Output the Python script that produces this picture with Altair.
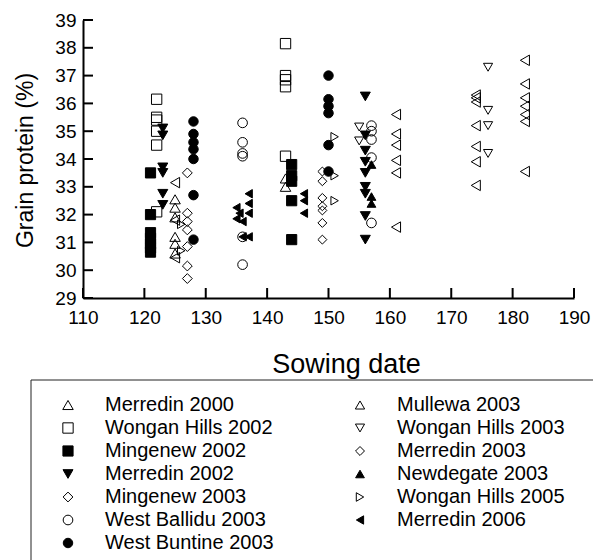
import altair as alt
import pandas as pd

FONT = "Liberation Sans"

# ---- data (sowing day, grain protein %) ----
merredin_2000_date = [125, 125, 125, 125, 125, 125, 143, 143]
merredin_2000_prot = [32.55, 32.25, 31.9, 31.2, 30.95, 30.6, 33.3, 33.0]

wongan_2002_date = [122, 122, 122, 122, 122, 122, 143, 143, 143, 143, 143]
wongan_2002_prot = [36.15, 35.5, 35.4, 35.0, 34.5, 32.1, 38.15, 37.0, 36.85, 36.6, 34.1]

mingenew_2002_date = [121, 121, 121, 121, 121, 121, 121, 144, 144, 144, 144, 144]
mingenew_2002_prot = [33.5, 32.0, 31.35, 31.15, 30.95, 30.8, 30.65, 33.8, 33.4, 33.2, 32.5, 31.1]

merredin_2002_date = [123, 123, 123, 123, 123, 123, 156, 156, 156, 156, 156, 156, 156, 156, 156]
merredin_2002_prot = [35.1, 34.85, 33.7, 33.5, 32.75, 32.35, 36.25, 34.85, 34.3, 33.9, 33.5, 33.0, 32.75, 31.95, 31.1]

mingenew_2003_date = [127, 127, 127, 127, 127, 127, 127]
mingenew_2003_prot = [33.5, 32.05, 31.75, 31.45, 30.85, 30.15, 29.7]

ballidu_2003_date = [136, 136, 136, 136, 136, 136, 157, 157, 157, 157, 157]
ballidu_2003_prot = [35.3, 34.6, 34.2, 34.1, 31.2, 30.2, 35.2, 35.0, 34.7, 34.05, 31.7]

buntine_2003_date = [128, 128, 128, 128, 128, 128, 128, 150, 150, 150, 150, 150, 150]
buntine_2003_prot = [35.35, 34.9, 34.6, 34.35, 34.0, 32.7, 31.1, 37.0, 36.15, 35.9, 35.65, 34.5, 33.55]

mullewa_2003_date = [125, 125, 125, 161, 161, 161, 161, 161, 161,
                     174, 174, 174, 174, 174, 174, 174,
                     182, 182, 182, 182, 182, 182, 182]
mullewa_2003_prot = [33.15, 31.8, 30.45, 35.6, 34.9, 34.5, 33.95, 33.5, 31.55,
                     36.3, 36.2, 36.05, 35.2, 34.45, 33.9, 33.05,
                     37.55, 36.7, 36.2, 35.9, 35.6, 35.35, 33.55]

wongan_2003_date = [155, 155, 176, 176, 176, 176]
wongan_2003_prot = [35.15, 34.65, 37.3, 35.75, 35.2, 34.2]

merredin_2003_date = [149, 149, 149, 149, 149, 149, 149]
merredin_2003_prot = [33.55, 33.2, 32.6, 32.3, 32.15, 31.7, 31.1]

newdegate_2003_date = [157, 157, 157]
newdegate_2003_prot = [33.8, 32.65, 32.4]

wongan_2005_date = [126, 126, 151, 151, 151]
wongan_2005_prot = [31.65, 30.7, 34.8, 33.4, 32.5]

merredin_2006_date = [135, 135, 135.5, 136, 136, 137, 137, 137, 137, 146, 146, 146]
merredin_2006_prot = [32.25, 31.85, 32.05, 31.75, 31.2, 32.75, 32.4, 32.05, 31.2, 32.75, 32.5, 32.05]

x_ticks = [110, 120, 130, 140, 150, 160, 170, 180, 190]
y_ticks = [29, 30, 31, 32, 33, 34, 35, 36, 37, 38, 39]

# legend order (column-major, 2 columns)
legend_order = ["Merredin 2000", "Wongan Hills 2002", "Mingenew 2002", "Merredin 2002",
                "Mingenew 2003", "West Ballidu 2003", "West Buntine 2003",
                "Mullewa 2003", "Wongan Hills 2003", "Merredin 2003", "Newdegate 2003",
                "Wongan Hills 2005", "Merredin 2006"]
legend_shapes = ["triangle-up", "square", "square", "triangle-down",
                 "diamond", "circle", "circle",
                 "triangle-up", "triangle-down", "diamond", "triangle-up",
                 "triangle-right", "triangle-left"]
legend_fills = ["transparent", "transparent", "black", "black",
                "transparent", "transparent", "black",
                "transparent", "transparent", "transparent", "black",
                "transparent", "black"]
legend_strokes = ["black", "black", "black", "black",
                  "black", "black", "black",
                  "black", "black", "black", "black",
                  "black", "black"]
legend_sizes = [110, 70, 70, 110,
                85, 80, 80,
                110, 110, 85, 110,
                110, 110]

series_data = [
    ("Merredin 2000", merredin_2000_date, merredin_2000_prot),
    ("Wongan Hills 2002", wongan_2002_date, wongan_2002_prot),
    ("Mingenew 2002", mingenew_2002_date, mingenew_2002_prot),
    ("Merredin 2002", merredin_2002_date, merredin_2002_prot),
    ("Mingenew 2003", mingenew_2003_date, mingenew_2003_prot),
    ("West Ballidu 2003", ballidu_2003_date, ballidu_2003_prot),
    ("West Buntine 2003", buntine_2003_date, buntine_2003_prot),
    ("Mullewa 2003", mullewa_2003_date, mullewa_2003_prot),
    ("Wongan Hills 2003", wongan_2003_date, wongan_2003_prot),
    ("Merredin 2003", merredin_2003_date, merredin_2003_prot),
    ("Newdegate 2003", newdegate_2003_date, newdegate_2003_prot),
    ("Wongan Hills 2005", wongan_2005_date, wongan_2005_prot),
    ("Merredin 2006", merredin_2006_date, merredin_2006_prot),
]
rows = []
for name, dates, prots in series_data:
    for d, p in zip(dates, prots):
        rows.append({"series": name, "sowing": d, "protein": p})
df = pd.DataFrame(rows)
main_df = df[df["series"] != "Mullewa 2003"]
mull_df = df[df["series"] == "Mullewa 2003"]

xt_df = pd.DataFrame({"sowing": x_ticks})
yt_df = pd.DataFrame({"protein": y_ticks})
box_df = pd.DataFrame({"a": [0]})

W, H = 491, 278

x_scale = alt.Scale(domain=[110, 190], nice=False, zero=False)
y_scale = alt.Scale(domain=[29, 39], nice=False, zero=False)

x_axis = alt.Axis(values=x_ticks, ticks=False, tickSize=0, grid=False,
                  domainColor="black", domainWidth=2,
                  labelFont=FONT, labelFontSize=19, labelColor="black",
                  labelPadding=10, labelFlush=False, labelOverlap=False,
                  title="Sowing date", titleFont=FONT, titleFontSize=27,
                  titleFontWeight="normal", titleColor="black",
                  titleX=263, titleY=74, titleAlign="center",
                  titleBaseline="alphabetic")
y_axis = alt.Axis(values=y_ticks, ticks=False, tickSize=0, grid=False,
                  domainColor="black", domainWidth=2,
                  labelFont=FONT, labelFontSize=19, labelColor="black",
                  labelPadding=7, labelFlush=False, labelOverlap=False,
                  title="Grain protein (%)", titleFont=FONT, titleFontSize=23,
                  titleFontWeight="normal", titleColor="black",
                  titleX=-51, titleY=140, titleAngle=270, titleAlign="center",
                  titleBaseline="alphabetic")

legend = alt.Legend(orient="none", legendX=-25, legendY=375, direction="vertical",
                    columns=2, columnPadding=76, rowPadding=3, padding=0,
                    labelFont=FONT, labelFontSize=20, labelColor="black",
                    labelOffset=27, labelLimit=400,
                    symbolStrokeColor="black", symbolStrokeWidth=1)

box = alt.Chart(box_df).mark_rect(fill="transparent", stroke="#222222", strokeWidth=1).encode(
    x=alt.value(-52), x2=alt.value(530), y=alt.value(360), y2=alt.value(560)
)

xticks = alt.Chart(xt_df).mark_rule(color="black", strokeWidth=2).encode(
    x=alt.X("sowing:Q", scale=x_scale, axis=x_axis),
    y=alt.value(H), y2=alt.value(H - 10),
)
yticks = alt.Chart(yt_df).mark_rule(color="black", strokeWidth=2).encode(
    y=alt.Y("protein:Q", scale=y_scale, axis=y_axis),
    x=alt.value(0), x2=alt.value(10),
)

points = alt.Chart(main_df).mark_point(strokeWidth=1, opacity=1).encode(
    x=alt.X("sowing:Q", scale=x_scale, axis=x_axis),
    y=alt.Y("protein:Q", scale=y_scale, axis=y_axis),
    shape=alt.Shape("series:N", title=None,
                    scale=alt.Scale(domain=legend_order, range=legend_shapes), legend=legend),
    fill=alt.Fill("series:N", title=None,
                  scale=alt.Scale(domain=legend_order, range=legend_fills), legend=legend),
    stroke=alt.Stroke("series:N", title=None,
                      scale=alt.Scale(domain=legend_order, range=legend_strokes), legend=legend),
    size=alt.Size("series:N", title=None,
                  scale=alt.Scale(domain=legend_order, range=legend_sizes), legend=legend),
)

mullewa = alt.Chart(mull_df).mark_point(shape="triangle-left", size=110, stroke="black",
                                        strokeWidth=1, fill="transparent", opacity=1).encode(
    x=alt.X("sowing:Q", scale=x_scale, axis=x_axis),
    y=alt.Y("protein:Q", scale=y_scale, axis=y_axis),
)

chart = alt.layer(box, xticks, yticks, points, mullewa).properties(
    width=W, height=H,
    autosize=alt.AutoSizeParams(type="none"),
    padding={"left": 83, "top": 20, "right": 19, "bottom": 262},
    background="white",
).configure_view(strokeWidth=0)

chart.save("out.html", embed_options={"renderer": "svg", "actions": False})
